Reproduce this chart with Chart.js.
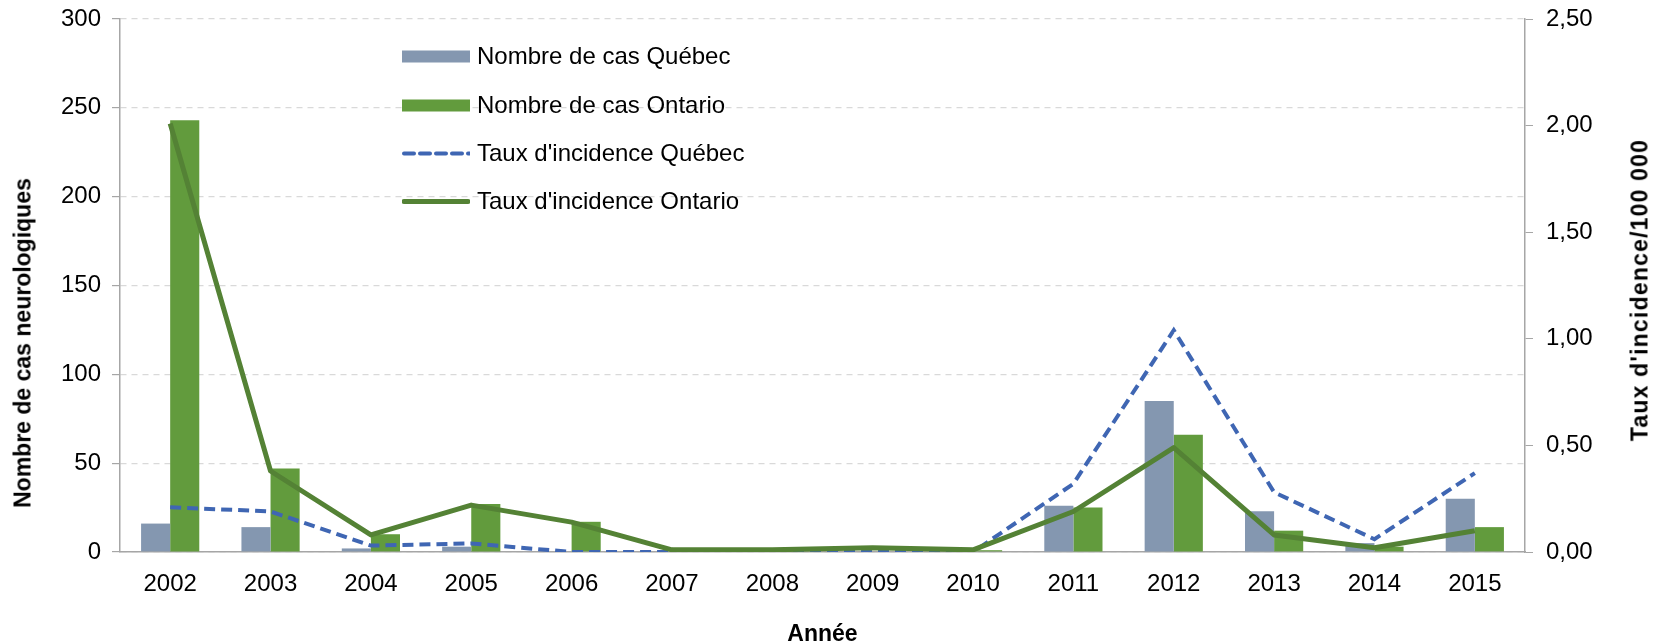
<!DOCTYPE html>
<html>
<head>
<meta charset="utf-8">
<script src="https://cdn.jsdelivr.net/npm/chart.js@4.4.1/dist/chart.umd.min.js"></script>
<style>
body{margin:0;background:#fff;font-family:"Liberation Sans",Arial,sans-serif;}
#wrap{position:relative;width:1661px;height:644px;}
#legend{position:absolute;left:402px;top:0;}
.row{position:absolute;left:0;height:30px;display:flex;align-items:center;white-space:nowrap;font-size:24px;color:#000;}
.row svg{margin-right:7px;}
.ytitle{position:absolute;font-weight:bold;font-size:23px;white-space:nowrap;color:#000;transform:translate(-50%,-50%) rotate(-90deg);}
</style>
</head>
<body>
<div id="wrap">
  <canvas id="chart" width="1661" height="644"></canvas>
  <div id="legend"></div>
  <div class="ytitle" style="left:23px;top:343px">Nombre de cas neurologiques</div>
  <div class="ytitle" style="left:1640px;top:290px;letter-spacing:1.2px">Taux d'incidence/100 000</div>
</div>
<script>
const years=["2002","2003","2004","2005","2006","2007","2008","2009","2010","2011","2012","2013","2014","2015"];
const casQuebec=[16,14,2,3,0,0,1,0,0,26,85,23,5,30];
const casOntario=[243,47,10,27,17,0,0,0,1,25,66,12,3,14];
const tauxQuebec=[0.21,0.19,0.03,0.04,0.00,0.00,0.01,0.00,0.00,0.32,1.04,0.28,0.06,0.37];
const tauxOntario=[2.01,0.38,0.08,0.22,0.14,0.01,0.01,0.02,0.01,0.19,0.49,0.08,0.02,0.10];
const yTicksLeft=[0,50,100,150,200,250,300];
const yTicksRight=[0,0.5,1,1.5,2,2.5];

const BLEU_BARRE="#8497B0", VERT_BARRE="#629B3D", BLEU_LIGNE="#3F66B3", VERT_LIGNE="#548235";
const GRIS="#a6a6a6";

Chart.defaults.font.family='"Liberation Sans", Arial, sans-serif';
Chart.defaults.color="#000";

// largeur fixe des axes verticaux, sans marge automatique en haut/bas
function fixeAxe(largeur){
  return s=>{s.width=largeur;s.paddingTop=0;s.paddingBottom=0;};
}

const chart=new Chart(document.getElementById("chart"),{
  data:{
    labels:years,
    datasets:[
      {type:"line",label:"Taux d'incidence Ontario",data:tauxOntario,yAxisID:"y1",borderColor:VERT_LIGNE,borderWidth:5,pointRadius:0,tension:0,borderJoinStyle:"round",order:0},
      {type:"line",label:"Taux d'incidence Québec",data:tauxQuebec,yAxisID:"y1",borderColor:BLEU_LIGNE,borderWidth:4,borderDash:[11,6],pointRadius:0,tension:0,order:1},
      {type:"bar",label:"Nombre de cas Québec",data:casQuebec,yAxisID:"y",backgroundColor:BLEU_BARRE,order:2},
      {type:"bar",label:"Nombre de cas Ontario",data:casOntario,yAxisID:"y",backgroundColor:VERT_BARRE,order:2}
    ]
  },
  options:{
    responsive:false,
    animation:false,
    layout:{padding:{top:19,left:0,right:0,bottom:0}},
    plugins:{legend:{display:false},tooltip:{enabled:false}},
    datasets:{bar:{categoryPercentage:0.58,barPercentage:1}},
    scales:{
      x:{
        grid:{display:false},
        border:{color:GRIS,width:1.5},
        ticks:{font:{size:24},padding:10},
        title:{display:true,text:"Année",font:{size:23,weight:"bold",lineHeight:0.8},padding:{top:0,bottom:0}},
        afterFit(s){s.height=92;}
      },
      y:{
        position:"left",min:0,max:300,
        afterBuildTicks(s){s.ticks=yTicksLeft.map(v=>({value:v}));},
        ticks:{font:{size:24},padding:11},
        grid:{color:"#d9d9d9",lineWidth:1.2,tickLength:8,tickColor:GRIS,tickBorderDash:[]},
        border:{color:GRIS,width:1.5,dash:[6,5]},
        afterFit:fixeAxe(120)
      },
      y1:{
        position:"right",min:0,max:2.5,
        afterBuildTicks(s){s.ticks=yTicksRight.map(v=>({value:v}));},
        ticks:{font:{size:24},padding:13,callback:v=>v.toFixed(2).replace(".",",")},
        grid:{drawOnChartArea:false,tickLength:8,tickColor:GRIS},
        border:{color:GRIS,width:1.5},
        afterFit:fixeAxe(136)
      }
    }
  }
});

// légende maison, dans la zone du graphique
const legendRows=[
  {label:"Nombre de cas Québec",kind:"bar",color:BLEU_BARRE,y:56},
  {label:"Nombre de cas Ontario",kind:"bar",color:VERT_BARRE,y:105},
  {label:"Taux d'incidence Québec",kind:"dash",color:BLEU_LIGNE,y:153},
  {label:"Taux d'incidence Ontario",kind:"line",color:VERT_LIGNE,y:201}
];
function symbol(r){
  if(r.kind==="bar") return `<svg width="68" height="13"><rect x="0" y="0.5" width="68" height="12" fill="${r.color}"/></svg>`;
  if(r.kind==="dash") return `<svg width="68" height="13"><line x1="2" y1="6.5" x2="68" y2="6.5" stroke="${r.color}" stroke-width="4" stroke-dasharray="10,6" stroke-linecap="round"/></svg>`;
  return `<svg width="68" height="13"><line x1="2" y1="6.5" x2="66" y2="6.5" stroke="${r.color}" stroke-width="5" stroke-linecap="round"/></svg>`;
}
document.getElementById("legend").innerHTML=legendRows.map(r=>
  `<div class="row" style="top:${r.y-15}px">${symbol(r)}<span>${r.label}</span></div>`
).join("");
</script>
</body>
</html>
